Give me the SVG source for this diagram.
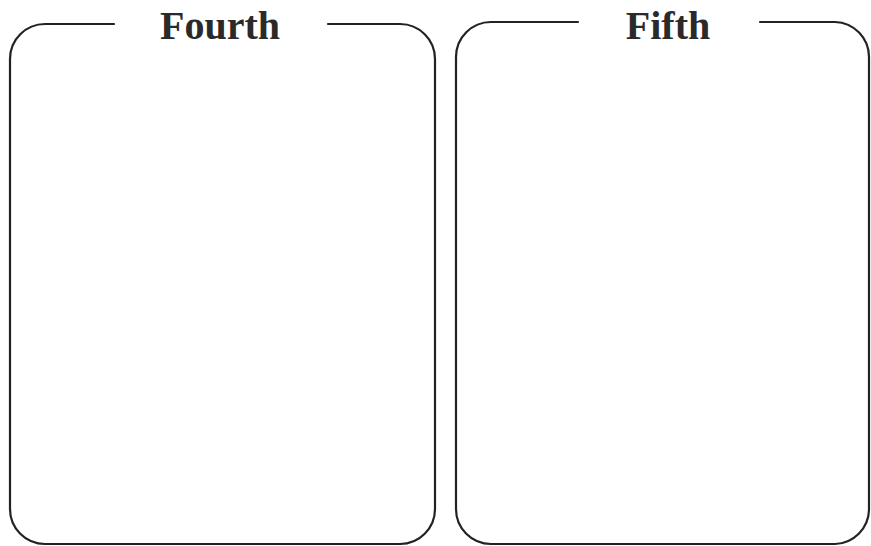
<svg xmlns="http://www.w3.org/2000/svg" width="871" height="546" viewBox="0 0 871 546">
<style>
.frame{fill:none;stroke:#222;stroke-width:2.2;stroke-linecap:round}
.title{font-family:"Liberation Serif","DejaVu Serif",serif;font-weight:bold;font-size:40px;fill:#2a2a2a;text-anchor:middle}
</style>
<rect width="871" height="546" fill="#fff"/>
<g id="fourth">
<path class="frame" d="M114,24 H45 A35,35 0 0 0 10,59 V509 A35,35 0 0 0 45,544 H400 A35,35 0 0 0 435,509 V59 A35,35 0 0 0 400,24 H328"/>
<text class="title" x="220" y="39">Fourth</text>
</g>
<g id="fifth">
<path class="frame" d="M578,22 H491 A35,35 0 0 0 456,57 V509 A35,35 0 0 0 491,544 H835 A35,35 0 0 0 869,510 V57 A35,35 0 0 0 835,22 H760"/>
<text class="title" x="668" y="39">Fifth</text>
</g>
<g id="connectors"/>
</svg>
